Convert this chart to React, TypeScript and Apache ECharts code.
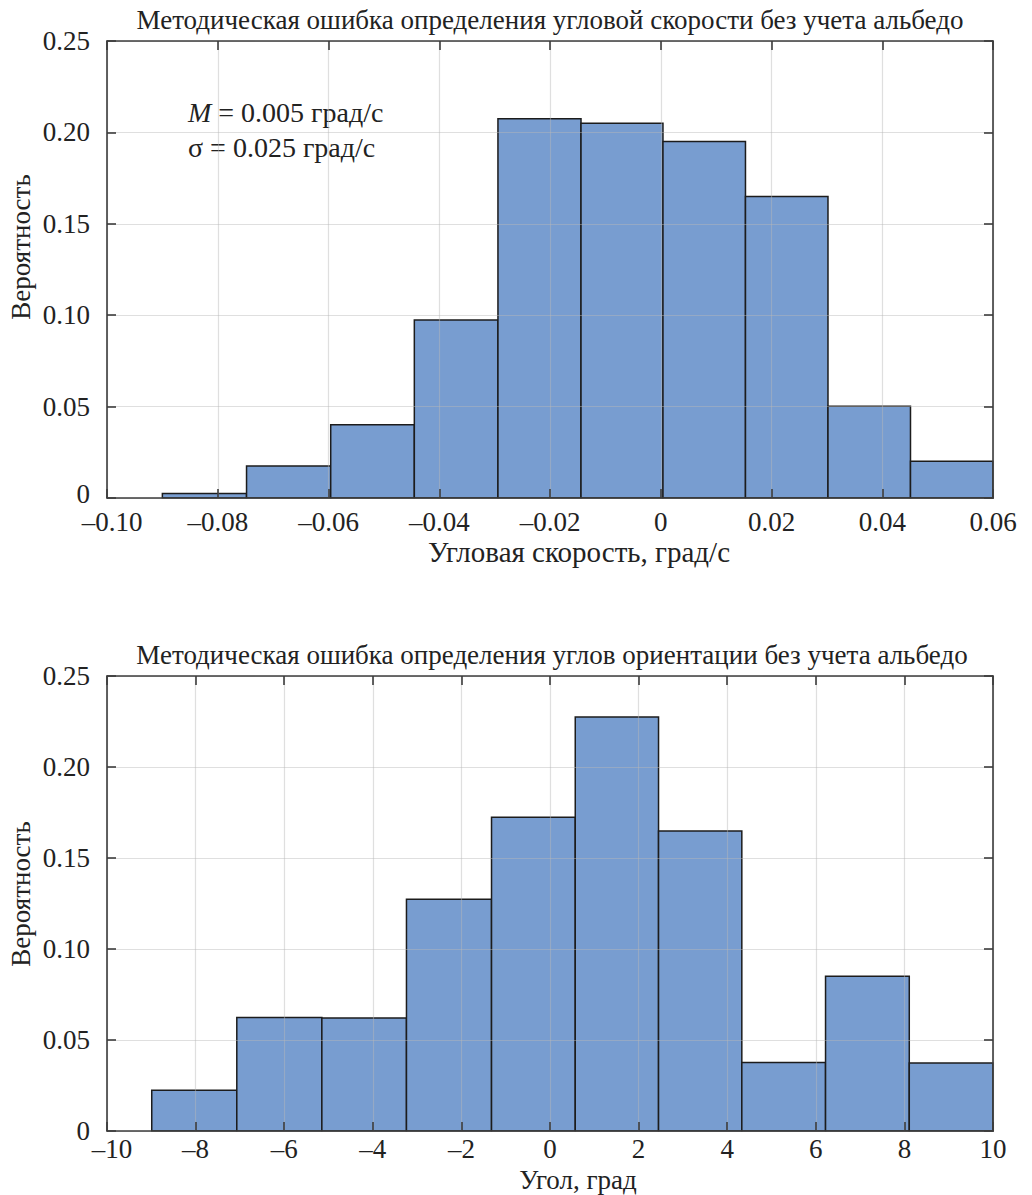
import React, { useEffect, useRef } from "react";
import * as echarts from "echarts";

const FONT = "Liberation Serif, Times New Roman, serif";

// Top histogram: angular-velocity error
const speedBinEdges = [-0.09, -0.0748, -0.0596, -0.0445, -0.0294, -0.0144, 0.0004, 0.0153, 0.0302, 0.0451, 0.06];
const speedProb = [0.0024, 0.0175, 0.0401, 0.0974, 0.2075, 0.205, 0.195, 0.165, 0.0502, 0.0201];

// Bottom histogram: orientation-angle error
const angleBinEdges = [-8.99, -7.07, -5.15, -3.24, -1.32, 0.57, 2.45, 4.33, 6.22, 8.11, 10.0];
const angleProb = [0.0224, 0.0623, 0.0621, 0.1274, 0.1724, 0.2275, 0.1649, 0.0376, 0.085, 0.0373];

const speedAxis = { min: -0.1, max: 0.06, interval: 0.02 };
const angleAxis = { min: -10, max: 10, interval: 2 };
const probAxis = { min: 0, max: 0.25, interval: 0.05 };

const titleTop = "Методическая ошибка определения угловой скорости без учета альбедо";
const titleBottom = "Методическая ошибка определения углов ориентации без учета альбедо";
const xNameTop = "Угловая скорость, град/с";
const xNameBottom = "Угол, град";
const yName = "Вероятность";
const annotM = "0.005 град/с";
const annotSigma = "σ = 0.025 град/с";

const toBins = (edges: number[], vals: number[]) =>
  vals.map((v, i) => [edges[i], edges[i + 1], v]);

const minus = (s: string) => s.replace("-", "–");

const AXIS_COLOR = "#3c3c3c";
const TEXT_COLOR = "#222";
const FS = 27;

export default function App() {
  const ref = useRef<HTMLDivElement>(null);
  useEffect(() => {
    document.body.style.margin = "0";
    const chart = echarts.init(ref.current!, null, { renderer: "svg" });

    const renderItem = (params: any, api: any) => {
      const p0 = api.coord([api.value(0), api.value(2)]);
      const p1 = api.coord([api.value(1), 0]);
      return {
        type: "rect",
        shape: { x: p0[0], y: p0[1], width: p1[0] - p0[0], height: p1[1] - p0[1] },
        style: { fill: "#789dd0", stroke: "#1c1c1c", lineWidth: 1.5 },
      };
    };

    const grids = [
      { left: 107, right: 39, top: 41, height: 457 },
      { left: 107, right: 39, top: 676, height: 455 },
    ];

    const splitLine = { show: true, lineStyle: { color: "rgba(185,185,185,0.45)", width: 1.2 } };
    const axisLine = { show: true, onZero: false, lineStyle: { color: AXIS_COLOR, width: 1.6 } };
    const tick = { show: true, inside: true, length: 9, lineStyle: { color: AXIS_COLOR, width: 1.6 } };
    const labelBase = { color: TEXT_COLOR, fontFamily: FONT, fontSize: FS };
    const richBase = { color: TEXT_COLOR, fontFamily: FONT, fontSize: FS };

    const fmt2 = (v: number) => (Math.abs(v) < 1e-9 ? "0" : minus(v.toFixed(2)));
    const fmtInt = (v: number) => (Math.abs(v) < 1e-9 ? "0" : minus(String(Math.round(v))));

    const xAxes: any[] = [];
    const yAxes: any[] = [];
    [speedAxis, angleAxis].forEach((ax, gi) => {
      const f = gi === 0 ? fmt2 : fmtInt;
      xAxes.push({
        type: "value", gridIndex: gi, position: "bottom", ...ax,
        axisLine, axisTick: tick, splitLine,
        axisLabel: {
          ...labelBase, lineHeight: 20, margin: gi === 0 ? 14 : 8,
          formatter: (v: number) => (Math.abs(v - ax.min) < 1e-9 ? "{m|" + f(v) + "}" : f(v)),
          rich: { m: { ...richBase, lineHeight: 20, padding: [0, 0, 0, 10] } },
          showMinLabel: true, showMaxLabel: true,
        },
      });
      xAxes.push({
        type: "value", gridIndex: gi, position: "top", ...ax,
        axisLine, axisTick: tick, splitLine: { show: false }, axisLabel: { show: false },
      });
      yAxes.push({
        type: "value", gridIndex: gi, position: "left", ...probAxis,
        axisLine, axisTick: tick, splitLine,
        axisLabel: {
          ...labelBase, lineHeight: 20, margin: 17,
          formatter: (v: number) => (gi === 0 && Math.abs(v) < 1e-9 ? "{z|0}" : fmt2(v)),
          rich: { z: { ...richBase, lineHeight: 20, padding: [0, 0, 8, 0] } },
          showMinLabel: true, showMaxLabel: true,
        },
      });
      yAxes.push({
        type: "value", gridIndex: gi, position: "right", ...probAxis,
        axisLine, axisTick: tick, splitLine: { show: false }, axisLabel: { show: false },
      });
    });

    const txt = (text: string, x: number, y: number, size: number, extra: any = {}) => ({
      type: "text",
      x, y,
      ...extra,
      style: {
        text, fill: TEXT_COLOR, fontFamily: FONT, fontSize: size, lineHeight: 24,
        align: "center", verticalAlign: "middle",
        textAlign: "center", textVerticalAlign: "middle",
      },
    });

    chart.setOption({
      animation: false,
      grid: grids,
      xAxis: xAxes,
      yAxis: yAxes,
      series: [
        {
          type: "custom", xAxisIndex: 0, yAxisIndex: 0, z: -1,
          renderItem, data: toBins(speedBinEdges, speedProb), silent: true,
        },
        {
          type: "custom", xAxisIndex: 2, yAxisIndex: 2, z: -1,
          renderItem, data: toBins(angleBinEdges, angleProb), silent: true,
        },
      ],
      graphic: [
        txt(titleTop, 550, 20, 27),
        txt(titleBottom, 552, 655, 27),
        txt(xNameTop, 579, 552, 29),
        txt(xNameBottom, 578, 1179.5, 27),
        txt(yName, 21, 247, 27, { rotation: Math.PI / 2 }),
        txt(yName, 21, 894, 27, { rotation: Math.PI / 2 }),
        {
          type: "text", x: 188, y: 112,
          style: {
            text: "{i|M} = " + annotM,
            rich: { i: { fontStyle: "italic", fontFamily: FONT, fontSize: 28, fill: TEXT_COLOR } },
            fill: TEXT_COLOR, fontFamily: FONT, fontSize: 28,
            align: "left", verticalAlign: "middle", textAlign: "left", textVerticalAlign: "middle",
          },
        },
        {
          type: "text", x: 188, y: 147,
          style: {
            text: annotSigma, fill: TEXT_COLOR, fontFamily: FONT, fontSize: 28,
            align: "left", verticalAlign: "middle", textAlign: "left", textVerticalAlign: "middle",
          },
        },
      ],
    });
    return () => chart.dispose();
  }, []);
  return <div ref={ref} style={{ width: 1032, height: 1195 }} />;
}
